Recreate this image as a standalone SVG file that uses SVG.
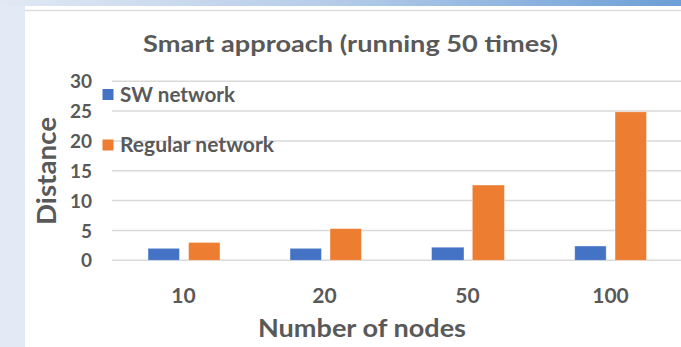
<svg xmlns="http://www.w3.org/2000/svg" width="681" height="347" viewBox="0 0 681 347">
<defs>
<linearGradient id="band" x1="0" y1="0" x2="1" y2="0">
<stop offset="0" stop-color="#e1e9f4"/>
<stop offset="0.5" stop-color="#b4cbe8"/>
<stop offset="1" stop-color="#6b9fd6"/>
</linearGradient>
<style>
.t{font-family:Lato,"Open Sans","Liberation Sans",sans-serif;font-weight:bold;fill:#595959}
.grid{stroke:#d9d9d9;stroke-width:1.5}
.sw{fill:#4472c4;stroke:#ffffff;stroke-opacity:0.5;stroke-width:0.8}
.rg{fill:#ed7d31;stroke:#ffffff;stroke-opacity:0.5;stroke-width:0.8}
</style>
</defs>
<rect x="0" y="0" width="681" height="347" fill="#e3eaf5"/>
<rect x="0" y="0" width="681" height="6" fill="url(#band)"/>
<rect x="25" y="6" width="656" height="341" fill="#ffffff"/>
<line x1="25" y1="10.5" x2="681" y2="10.5" stroke="#dcdcdc" stroke-width="1.5"/>

<g id="title"><text class="t" x="350.5" y="51.5" font-size="23" text-anchor="middle" textLength="415" lengthAdjust="spacingAndGlyphs">Smart approach (running 50 times)</text></g>

<g id="gridlines">
<line class="grid" x1="112" y1="81.3" x2="681" y2="81.3"/>
<line class="grid" x1="112" y1="111.1" x2="681" y2="111.1"/>
<line class="grid" x1="112" y1="141" x2="681" y2="141"/>
<line class="grid" x1="112" y1="170.8" x2="681" y2="170.8"/>
<line class="grid" x1="112" y1="200.6" x2="681" y2="200.6"/>
<line class="grid" x1="112" y1="230.5" x2="681" y2="230.5"/>
<line class="grid" x1="112" y1="260.3" x2="681" y2="260.3"/>
</g>

<g id="y-axis">
<text class="t" x="92" y="88.3" font-size="19" text-anchor="end">30</text>
<text class="t" x="92" y="118.1" font-size="19" text-anchor="end">25</text>
<text class="t" x="92" y="148" font-size="19" text-anchor="end">20</text>
<text class="t" x="92" y="177.8" font-size="19" text-anchor="end">15</text>
<text class="t" x="92" y="207.6" font-size="19" text-anchor="end">10</text>
<text class="t" x="92" y="237.5" font-size="19" text-anchor="end">5</text>
<text class="t" x="92" y="267.3" font-size="19" text-anchor="end">0</text>
<text class="t" transform="translate(56,171) rotate(-90)" x="0" y="0" font-size="27" text-anchor="middle" textLength="108" lengthAdjust="spacingAndGlyphs">Distance</text>
</g>

<g id="bars">
<rect class="sw" x="148" y="248.3" width="31.5" height="12"/>
<rect class="rg" x="188.5" y="242.4" width="31.5" height="17.9"/>
<rect class="sw" x="290" y="248.3" width="31.5" height="12"/>
<rect class="rg" x="330" y="228.6" width="31.5" height="31.7"/>
<rect class="sw" x="431.5" y="247.2" width="32.5" height="13.1"/>
<rect class="rg" x="472.3" y="185" width="32.2" height="75.3"/>
<rect class="sw" x="574.7" y="246" width="31.5" height="14.3"/>
<rect class="rg" x="615" y="111.8" width="31.5" height="148.5"/>
</g>

<g id="legend">
<rect x="102.5" y="89" width="11" height="11" fill="#4472c4"/>
<text class="t" x="120" y="101.5" font-size="20" textLength="115" lengthAdjust="spacingAndGlyphs">SW network</text>
<rect x="102.5" y="139.5" width="11" height="11" fill="#ed7d31"/>
<text class="t" x="120" y="151.5" font-size="20" textLength="154" lengthAdjust="spacingAndGlyphs">Regular network</text>
</g>

<g id="x-axis">
<text class="t" x="183.5" y="302.5" font-size="21" text-anchor="middle">10</text>
<text class="t" x="324.5" y="302.5" font-size="21" text-anchor="middle">20</text>
<text class="t" x="467.5" y="302.5" font-size="21" text-anchor="middle">50</text>
<text class="t" x="610.5" y="302.5" font-size="21" text-anchor="middle">100</text>
<text class="t" x="362" y="337" font-size="25" text-anchor="middle" textLength="208" lengthAdjust="spacingAndGlyphs">Number of nodes</text>
</g>
</svg>
